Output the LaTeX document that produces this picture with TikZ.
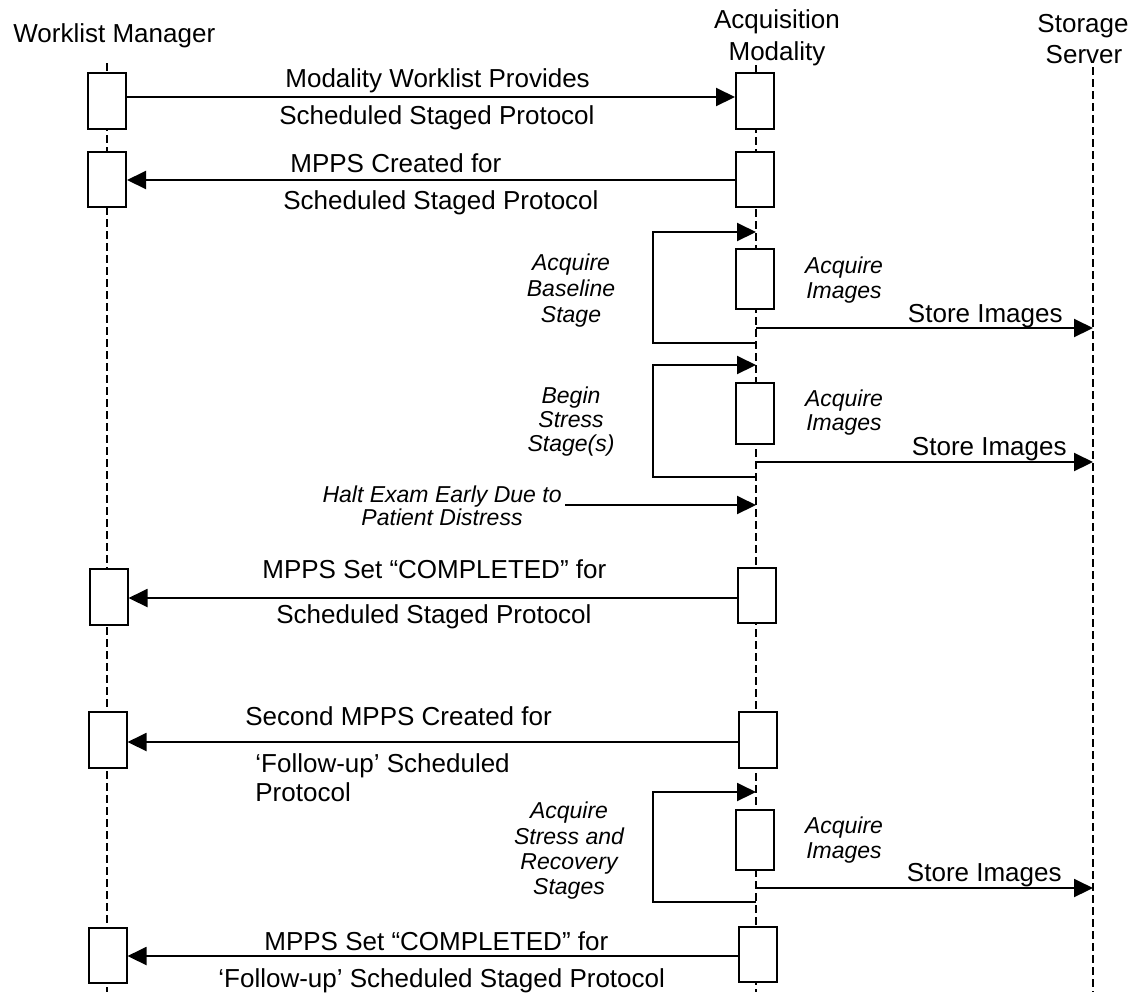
\documentclass[tikz,border=0pt]{standalone}
\usepackage{fontspec}
\setmainfont{Liberation Sans}
\usetikzlibrary{arrows.meta}
\begin{document}
\begin{tikzpicture}[x=0.5pt,y=-0.5pt,
  lbl/.style={font=\fontsize{13}{15}\selectfont, inner sep=0pt},
  ilbl/.style={font=\fontsize{11.5}{13}\selectfont\itshape, inner sep=0pt},
  life/.style={line width=0.8pt, dash pattern=on 4pt off 2pt},
  act/.style={draw, fill=white, line width=1pt, inner sep=0pt, minimum width=19pt},
  msg/.style={line width=1pt, -{Triangle[length=9.5pt,width=9pt]}}]
\useasboundingbox (0,0) rectangle (1133,992);

% headers
\node[lbl, anchor=base west] (hwm) at (13,42) {Worklist Manager};
\node[lbl, anchor=base] (ham1) at (777,28) {Acquisition};
\node[lbl, anchor=base] (ham2) at (777,60) {Modality};
\node[lbl, anchor=base] (hss1) at (1083,32) {Storage};
\node[lbl, anchor=base] (hss2) at (1084,63) {Server};

% lifelines
\coordinate (wmT) at (107,63);  \coordinate (wmB) at (107,992);
\coordinate (amT) at (756,65);  \coordinate (amB) at (756,992);
\coordinate (ssT) at (1093,67); \coordinate (ssB) at (1093,992);
\draw[life] (wmT) -- (wmB);
\draw[life] (amT) -- (amB);
\draw[life] (ssT) -- (ssB);

% activation boxes: worklist manager
\node[act, minimum height=28pt] (w1) at (107,101) {};
\node[act, minimum height=27.5pt] (w2) at (107,179.5) {};
\node[act, minimum height=28pt] (w3) at (108.5,597) {};
\node[act, minimum height=28pt] (w4) at (107.5,740) {};
\node[act, minimum height=27.5pt] (w5) at (107.5,955.5) {};

% activation boxes: acquisition modality
\node[act, minimum height=28pt] (a1) at (755,101) {};
\node[act, minimum height=27.5pt] (a2) at (755,179.5) {};
\node[act, minimum height=30pt] (a3) at (755,279) {};
\node[act, minimum height=30.5pt] (a4) at (755,413.5) {};
\node[act, minimum height=27.5pt] (a5) at (757,595.5) {};
\node[act, minimum height=28pt] (a6) at (757.5,740) {};
\node[act, minimum height=30pt] (a7) at (754.5,840) {};
\node[act, minimum height=27.5pt] (a8) at (757.5,954.5) {};

% message 1
\draw[msg] (w1.east |- 0,97) -- (a1.west |- 0,97);
\node[lbl, anchor=base west] (t1a) at (285,87) {Modality Worklist Provides};
\node[lbl, anchor=base west] (t1b) at (279,124) {Scheduled Staged Protocol};

% message 2
\draw[msg] (a2.west |- 0,180) -- (w2.east |- 0,180);
\node[lbl, anchor=base west] (t2a) at (290,172) {MPPS Created for};
\node[lbl, anchor=base west] (t2b) at (283,209) {Scheduled Staged Protocol};

% loop 1
\coordinate (l1s) at (756,343); \coordinate (l1e) at (756,232);
\draw[msg] (l1s) -- (653,343) |- (l1e);
\node[ilbl, anchor=base] (l1a) at (571,270) {Acquire};
\node[ilbl, anchor=base] (l1b) at (571,296) {Baseline};
\node[ilbl, anchor=base] (l1c) at (571,322) {Stage};
\node[ilbl, anchor=base] (ai1a) at (844,273) {Acquire};
\node[ilbl, anchor=base] (ai1b) at (844,298) {Images};
\draw[msg] (amT |- 0,328) -- (ssT |- 0,328);
\node[lbl, anchor=base east] (s1) at (1063,322) {Store Images};

% loop 2
\coordinate (l2s) at (756,477); \coordinate (l2e) at (756,365);
\draw[msg] (l2s) -- (653,477) |- (l2e);
\node[ilbl, anchor=base] (l2a) at (571,403) {Begin};
\node[ilbl, anchor=base] (l2b) at (571,427) {Stress};
\node[ilbl, anchor=base] (l2c) at (571,451) {Stage(s)};
\node[ilbl, anchor=base] (ai2a) at (844,406) {Acquire};
\node[ilbl, anchor=base] (ai2b) at (844,430) {Images};
\draw[msg] (amT |- 0,462) -- (ssT |- 0,462);
\node[lbl, anchor=base east] (s2) at (1067,455) {Store Images};

% halt
\node[ilbl, anchor=base east] (ha) at (562,502) {Halt Exam Early Due to};
\node[ilbl, anchor=base] (hc) at (442,525) {Patient Distress};
\coordinate (h0) at (565,505);
\draw[msg] (h0) -- (amT |- h0);

% message 3
\draw[msg] (a5.west |- 0,598) -- (w3.east |- 0,598);
\node[lbl, anchor=base west] (t3a) at (262,578) {MPPS Set “COMPLETED” for};
\node[lbl, anchor=base west] (t3b) at (276,623) {Scheduled Staged Protocol};

% message 4
\draw[msg] (a6.west |- 0,742) -- (w4.east |- 0,742);
\node[lbl, anchor=base west] (t4a) at (245,725) {Second MPPS Created for};
\node[lbl, anchor=base west] (t4b) at (255,772) {‘Follow-up’ Scheduled};
\node[lbl, anchor=base west] (t4c) at (255,801) {Protocol};

% loop 3
\coordinate (l3s) at (756,902); \coordinate (l3e) at (756,792);
\draw[msg] (l3s) -- (653,902) |- (l3e);
\node[ilbl, anchor=base] (l3a) at (569,818) {Acquire};
\node[ilbl, anchor=base] (l3b) at (569,844) {Stress and};
\node[ilbl, anchor=base] (l3c) at (569,869) {Recovery};
\node[ilbl, anchor=base] (l3d) at (569,894) {Stages};
\node[ilbl, anchor=base] (ai3a) at (844,833) {Acquire};
\node[ilbl, anchor=base] (ai3b) at (844,858) {Images};
\draw[msg] (amT |- 0,888) -- (ssT |- 0,888);
\node[lbl, anchor=base east] (s3) at (1062,881) {Store Images};

% message 5
\draw[msg] (a8.west |- 0,956) -- (w5.east |- 0,956);
\node[lbl, anchor=base west] (t5a) at (264,950) {MPPS Set “COMPLETED” for};
\node[lbl, anchor=base west] (t5b) at (218,987) {‘Follow-up’ Scheduled Staged Protocol};
\end{tikzpicture}
\end{document}
